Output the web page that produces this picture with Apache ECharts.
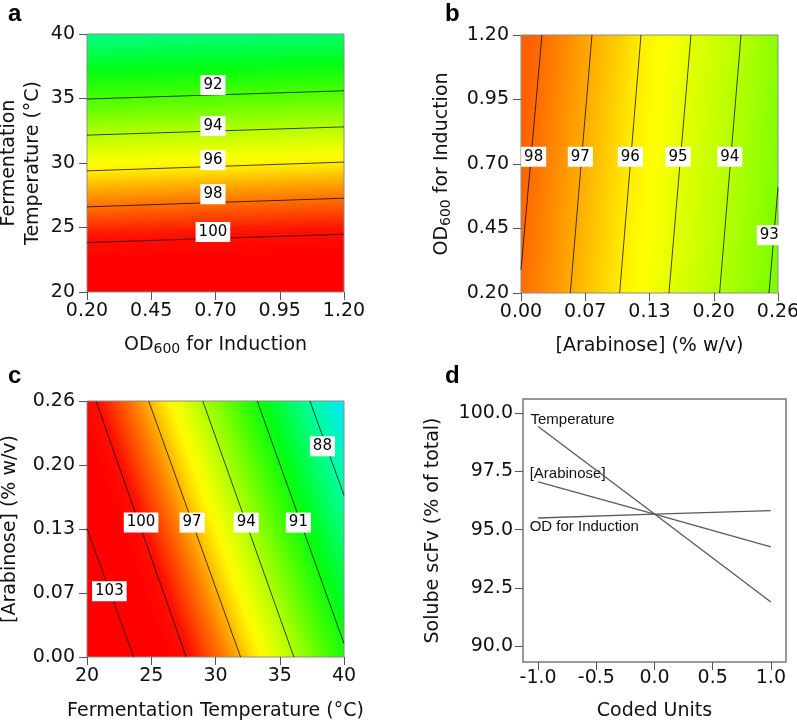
<!DOCTYPE html>
<html>
<head>
<meta charset="utf-8">
<script src="https://cdn.jsdelivr.net/npm/echarts@6/dist/echarts.min.js"></script>
<style>
  html, body { margin: 0; padding: 0; background: #fff; }
  #main { width: 797px; height: 721px; }
</style>
</head>
<body>
<div id="main"></div>
<script>
// ---- panel a : OD600 (x) vs fermentation temperature (y)
const aTickX = [0.20, 0.45, 0.70, 0.95, 1.20];
const aTickXLabels = ['0.20', '0.45', '0.70', '0.95', '1.20'];
const aTickY = [20, 25, 30, 35, 40];
const aLevels = [92, 94, 96, 98, 100];
const aLines = [
  [[0.20, 34.96], [1.20, 35.60]],
  [[0.20, 32.16], [1.20, 32.80]],
  [[0.20, 29.39], [1.20, 30.07]],
  [[0.20, 26.60], [1.20, 27.27]],
  [[0.20, 23.83], [1.20, 24.48]]
];
const aLabelPos = [[0.69, 36.04], [0.69, 32.86], [0.69, 30.22], [0.69, 27.58], [0.69, 24.66]];

// ---- panel b : arabinose (x) vs OD600 (y)
const bTickX = [0, 0.065, 0.13, 0.195, 0.26];
const bTickXLabels = ['0.00', '0.07', '0.13', '0.20', '0.26'];
const bTickY = [0.20, 0.45, 0.70, 0.95, 1.20];
const bTickYLabels = ['0.20', '0.45', '0.70', '0.95', '1.20'];
const bLevels = [98, 97, 96, 95, 94, 93];
const bLines = [
  [[0.0212, 1.20], [0.0000, 0.29]],
  [[0.0718, 1.20], [0.0499, 0.20]],
  [[0.1214, 1.20], [0.0998, 0.20]],
  [[0.1720, 1.20], [0.1497, 0.20]],
  [[0.2226, 1.20], [0.2009, 0.20]],
  [[0.2600, 0.61], [0.2509, 0.20]]
];
const bLabelPos = [[0.0128, 0.728], [0.0600, 0.728], [0.1106, 0.728], [0.1588, 0.728], [0.2112, 0.728], [0.2512, 0.424]];

// ---- panel c : temperature (x) vs arabinose (y)
const cTickX = [20, 25, 30, 35, 40];
const cTickY = [0, 0.065, 0.13, 0.195, 0.26];
const cTickYLabels = ['0.00', '0.07', '0.13', '0.20', '0.26'];
const cLevels = [103, 100, 97, 94, 91, 88];
const cLines = [
  [[20.00, 0.1304], [23.63, 0]],
  [[20.70, 0.26], [27.72, 0]],
  [[24.80, 0.26], [31.95, 0]],
  [[29.01, 0.26], [36.10, 0]],
  [[33.25, 0.26], [40.00, 0.0136]],
  [[37.35, 0.26], [40.00, 0.1642]]
];
const cLabelPos = [[21.74, 0.0667], [24.21, 0.1365], [28.18, 0.1365], [32.39, 0.1365], [36.45, 0.1365], [38.32, 0.214]];

// ---- panel d : main effects in coded units
const dX = [-1, 0, 1];
const dTemperature = [99.42, 95.67, 91.90];
const dArabinose = [97.05, 95.67, 94.26];
const dOD = [95.50, 95.67, 95.82];
const dNames = ['Temperature', '[Arabinose]', 'OD for Induction'];
const dNamePos = [[-1.07, 99.71], [-1.077, 97.39], [-1.077, 95.13]];
const dTickX = [-1, -0.5, 0, 0.5, 1];
const dTickY = [90, 92.5, 95, 97.5, 100];

// colour ramp of the response surface (value -> colour)
const ramp = [
  [101, '#ff0000'], [99.6, '#ff1200'], [99, '#ff3800'], [98, '#ff7000'],
  [97, '#ffae00'], [96, '#fff000'], [95.6, '#ffff00'], [94, '#b4ff00'],
  [92, '#48ff00'], [90.5, '#00ff12'], [88, '#00ff9c'], [86, '#00e4ff'], [84, '#00b0ff']
];

function hex(c) { return [1, 3, 5].map(i => parseInt(c.substr(i, 2), 16)); }
function rampColor(v) {
  if (v >= ramp[0][0]) return ramp[0][1];
  for (let i = 1; i < ramp.length; i++) {
    if (v >= ramp[i][0]) {
      const a = hex(ramp[i - 1][1]), b = hex(ramp[i][1]);
      const t = (ramp[i - 1][0] - v) / (ramp[i - 1][0] - ramp[i][0]);
      return 'rgb(' + a.map((x, k) => Math.round(x + (b[k] - x) * t)).join(',') + ')';
    }
  }
  return ramp[ramp.length - 1][1];
}
function field(x0, y0, x1, y1, v0, v1) {
  let stops = [];
  for (let i = 0; i <= 40; i++) {
    stops.push({offset: i / 40, color: rampColor(v0 + (v1 - v0) * i / 40)});
  }
  return new echarts.graphic.LinearGradient(x0, y0, x1, y1, stops);
}

const FONT = 'DejaVu Sans';
function pick(ticks, labels) {
  return v => {
    const i = ticks.findIndex(t => Math.abs(t - v) < 1e-9);
    return i < 0 ? '' : labels[i];
  };
}
function axis(gi, type, min, max, ticks, fmt, name, gap, margin) {
  return {
    type: 'value', gridIndex: gi, min: min, max: max,
    splitLine: {show: false},
    axisLine: {show: false, onZero: false},
    axisTick: {show: true, length: 8, customValues: ticks, lineStyle: {color: '#555', width: 1}},
    axisLabel: {customValues: ticks, formatter: fmt, fontFamily: FONT, fontSize: 19, color: '#111',
      margin: margin != null ? margin : (type === 'x' ? 10 : 12)},
    name: name, nameLocation: 'middle', nameGap: gap, nameMoveOverlap: false,
    nameTextStyle: {fontFamily: FONT, fontSize: 19, color: '#111', lineHeight: 24,
      rich: {m: {fontFamily: FONT, fontSize: 19, color: '#111'},
             s: {fontFamily: FONT, fontSize: 14, color: '#111', padding: [8, 0, 0, 0]}}}
  };
}
function contour(lines, levels, labelPos, ai) {
  let out = lines.map((l, i) => ({
    type: 'line', xAxisIndex: ai, yAxisIndex: ai, data: l, symbol: 'none', silent: true,
    lineStyle: {color: 'rgba(0,0,0,0.72)', width: 1}, z: 3
  }));
  out.push({
    type: 'scatter', xAxisIndex: ai, yAxisIndex: ai, symbolSize: 1, silent: true, z: 5,
    itemStyle: {color: 'rgba(0,0,0,0)', opacity: 1},
    data: labelPos.map((p, i) => [p[0], p[1], levels[i]]),
    label: {show: true, position: 'inside', formatter: p => p.value[2],
      backgroundColor: '#fff', padding: [3, 3, 2, 3], fontFamily: FONT, fontSize: 15, color: '#000'}
  });
  return out;
}

let myChart = echarts.init(document.getElementById('main'), null, {renderer: 'canvas'});

const gridBase = {show: true, borderColor: '#8c8c8c', borderWidth: 1, containLabel: false, outerBoundsMode: 'none'};

let option = {
  animation: false,
  backgroundColor: '#fff',
  graphic: [
    {type: 'text', left: 8, top: 2, style: {text: 'a', font: 'bold 24px "Liberation Sans"', fill: '#000'}},
    {type: 'text', left: 445, top: 2, style: {text: 'b', font: 'bold 24px "Liberation Sans"', fill: '#000'}},
    {type: 'text', left: 8, top: 364, style: {text: 'c', font: 'bold 24px "Liberation Sans"', fill: '#000'}},
    {type: 'text', left: 445, top: 364, style: {text: 'd', font: 'bold 24px "Liberation Sans"', fill: '#000'}}
  ],
  grid: [
    Object.assign({}, gridBase, {left: 87, top: 34, width: 257, height: 258,
      backgroundColor: field(0.516, 1, 0.484, 0, 102.99, 88.6)}),
    Object.assign({}, gridBase, {left: 521, top: 35, width: 257, height: 258,
      backgroundColor: field(0, 0.458, 1, 0.542, 98.3, 93.03)}),
    Object.assign({}, gridBase, {left: 87, top: 401, width: 257, height: 256,
      backgroundColor: field(-0.102, 0.7155, 1.102, 0.2845, 105.5, 86.0)}),
    Object.assign({}, gridBase, {left: 523, top: 399, width: 263, height: 263,
      backgroundColor: 'rgba(0,0,0,0)', borderColor: '#777', borderWidth: 1.5})
  ],
  xAxis: [
    axis(0, 'x', 0.2, 1.2, aTickX, pick(aTickX, aTickXLabels), '{m|OD}{s|600}{m| for Induction}', 41),
    axis(1, 'x', 0, 0.26, bTickX, pick(bTickX, bTickXLabels), '[Arabinose] (% w/v)', 41),
    axis(2, 'x', 20, 40, cTickX, v => String(v), 'Fermentation Temperature (°C)', 42),
    axis(3, 'x', -1.13, 1.13, dTickX, v => v.toFixed(1), 'Coded Units', 37, 7)
  ],
  yAxis: [
    axis(0, 'y', 20, 40, aTickY, v => String(v), 'Fermentation\nTemperature (°C)', 42),
    axis(1, 'y', 0.2, 1.2, bTickY, pick(bTickY, bTickYLabels), '{m|OD}{s|600}{m| for Induction}', 67),
    axis(2, 'y', 0, 0.26, cTickY, pick(cTickY, cTickYLabels), '[Arabinose] (% w/v)', 65),
    axis(3, 'y', 89.33, 100.6, dTickY, v => v.toFixed(1), 'Solube scFv (% of total)', 78, 10)
  ],
  series: [].concat(
    contour(aLines, aLevels, aLabelPos, 0),
    contour(bLines, bLevels, bLabelPos, 1),
    contour(cLines, cLevels, cLabelPos, 2),
    [
      {type: 'line', xAxisIndex: 3, yAxisIndex: 3, data: dX.map((x, i) => [x, dTemperature[i]]),
        symbol: 'none', lineStyle: {color: '#5a5a5a', width: 1.3}},
      {type: 'line', xAxisIndex: 3, yAxisIndex: 3, data: dX.map((x, i) => [x, dArabinose[i]]),
        symbol: 'none', lineStyle: {color: '#5a5a5a', width: 1.3}},
      {type: 'line', xAxisIndex: 3, yAxisIndex: 3, data: dX.map((x, i) => [x, dOD[i]]),
        symbol: 'none', lineStyle: {color: '#5a5a5a', width: 1.3}},
      {type: 'scatter', xAxisIndex: 3, yAxisIndex: 3, symbolSize: 1, silent: true,
        itemStyle: {color: 'rgba(0,0,0,0)', opacity: 1},
        data: dNamePos.map((p, i) => [p[0], p[1], dNames[i]]),
        label: {show: true, position: 'right', distance: 0, formatter: p => p.value[2],
          fontFamily: 'Liberation Sans', fontSize: 15, color: '#111'}}
    ]
  )
};
option && myChart.setOption(option);
</script>
</body>
</html>
